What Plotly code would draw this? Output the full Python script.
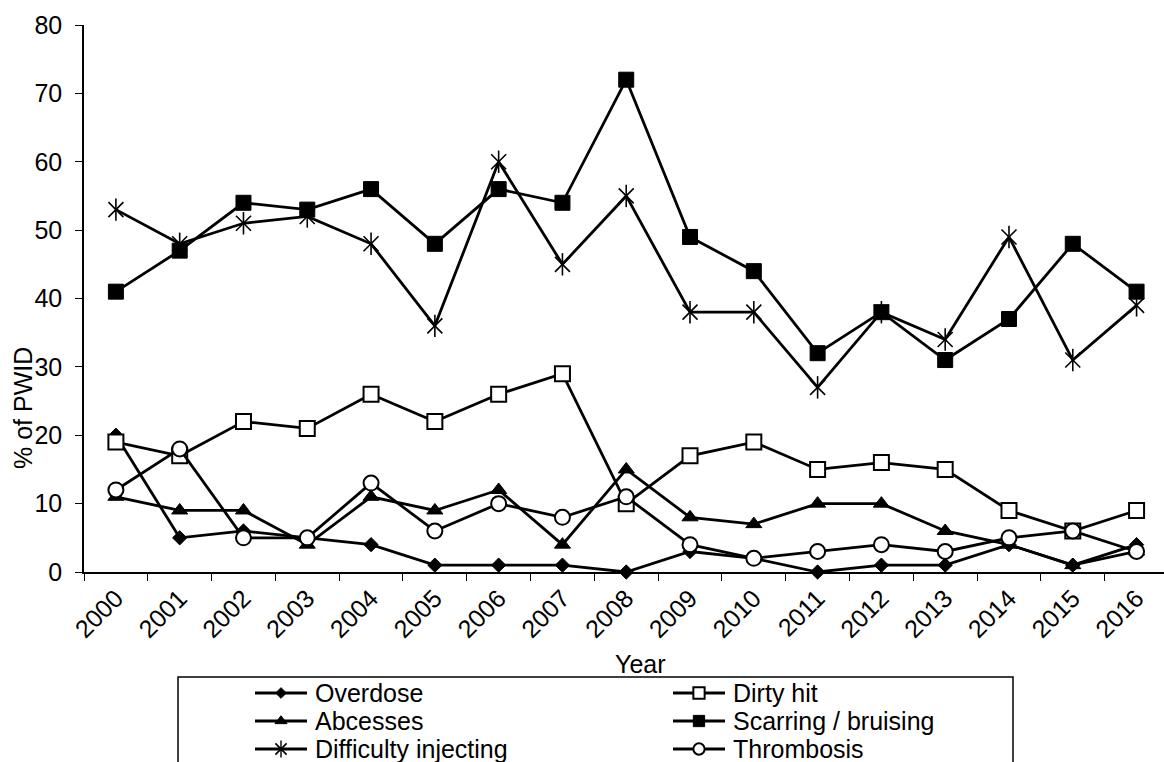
import plotly.graph_objects as go

# ---- data -------------------------------------------------------------
years = [str(y) for y in range(2000, 2017)]
overdose = [20, 5, 6, 5, 4, 1, 1, 1, 0, 3, 2, 0, 1, 1, 4, 1, 4]
dirty_hit = [19, 17, 22, 21, 26, 22, 26, 29, 10, 17, 19, 15, 16, 15, 9, 6, 9]
abcesses = [11, 9, 9, 4, 11, 9, 12, 4, 15, 8, 7, 10, 10, 6, 4, 1, 3]
scarring = [41, 47, 54, 53, 56, 48, 56, 54, 72, 49, 44, 32, 38, 31, 37, 48, 41]
difficulty = [53, 48, 51, 52, 48, 36, 60, 45, 55, 38, 38, 27, 38, 34, 49, 31, 39]
thrombosis = [12, 18, 5, 5, 13, 6, 10, 8, 11, 4, 2, 3, 4, 3, 5, 6, 3]
y_ticks = [0, 10, 20, 30, 40, 50, 60, 70, 80]

# ---- geometry (pixels) ------------------------------------------------
W, H = 1164, 762
M_L, M_T = 84, 25
PLOT_BOTTOM = 572
paper_h = H - M_T
main_bottom = (H - PLOT_BOTTOM) / paper_h

FONT = "Liberation Sans, Arial, sans-serif"
FS = 25
BLACK = "#000000"
LW = 2.8

series = [
    ("Overdose", overdose, dict(symbol="diamond", size=11, color=BLACK,
                                line=dict(color=BLACK, width=1))),
    ("Dirty hit", dirty_hit, dict(symbol="square", size=15, color="white",
                                  line=dict(color=BLACK, width=2))),
    ("Abcesses", abcesses, dict(symbol="triangle-up", size=14, color=BLACK,
                                line=dict(color=BLACK, width=1))),
    ("Scarring / bruising", scarring, dict(symbol="square", size=15, color=BLACK,
                                           line=dict(color=BLACK, width=1))),
    ("Difficulty injecting", difficulty, dict(symbol="x-thin-open", size=15, color=BLACK,
                                              line=dict(color=BLACK, width=1.6))),
    ("Thrombosis", thrombosis, dict(symbol="circle", size=15, color="white",
                                    line=dict(color=BLACK, width=2))),
]

fig = go.Figure()

for name, vals, mk in series:
    fig.add_trace(go.Scatter(
        x=years, y=vals, name=name, mode="lines+markers",
        line=dict(color=BLACK, width=LW), marker=mk,
        cliponaxis=False, showlegend=False,
    ))
    if mk["symbol"] == "x-thin-open":
        # vertical stroke completes the star marker
        fig.add_trace(go.Scatter(
            x=years, y=vals, mode="markers", hoverinfo="skip",
            marker=dict(symbol="line-ns-open", size=16, color=BLACK,
                        line=dict(color=BLACK, width=1.6)),
            cliponaxis=False, showlegend=False,
        ))

# ---- legend drawn on a pixel-scaled helper subplot --------------------
LEG_BOX = dict(x0=178, x1=1013, y0=677, y1=800)
ROW_Y = [693, 721, 749]
COL_MARK_X = [281, 699]
SWATCH_HALF = 26
TEXT_GAP = 6

for i, (name, vals, mk) in enumerate(series):
    row, col = divmod(i, 2)
    cx, cy = COL_MARK_X[col], ROW_Y[row]
    fig.add_trace(go.Scatter(
        x=[cx - SWATCH_HALF, cx + SWATCH_HALF], y=[cy, cy], mode="lines",
        line=dict(color=BLACK, width=LW), xaxis="x2", yaxis="y2",
        showlegend=False, hoverinfo="skip",
    ))
    leg_mk = dict(mk)
    leg_mk["size"] = mk["size"] * 0.75
    fig.add_trace(go.Scatter(
        x=[cx], y=[cy], mode="markers", marker=leg_mk, xaxis="x2", yaxis="y2",
        showlegend=False, hoverinfo="skip",
    ))
    if mk["symbol"] == "x-thin-open":
        fig.add_trace(go.Scatter(
            x=[cx], y=[cy], mode="markers", xaxis="x2", yaxis="y2",
            marker=dict(symbol="line-ns-open", size=12, color=BLACK,
                        line=dict(color=BLACK, width=1.4)),
            showlegend=False, hoverinfo="skip",
        ))
    fig.add_annotation(
        x=cx + SWATCH_HALF + TEXT_GAP, y=cy, xref="x2", yref="y2",
        text=name, showarrow=False, xanchor="left", yanchor="middle",
        font=dict(family=FONT, size=FS, color=BLACK),
    )

fig.add_shape(type="rect", xref="x2", yref="y2", **LEG_BOX,
              line=dict(color=BLACK, width=1.5), fillcolor="rgba(0,0,0,0)")

# ---- axis titles ------------------------------------------------------
fig.add_annotation(
    x=640, y=664, xref="x2", yref="y2", text="Year", showarrow=False,
    xanchor="center", yanchor="middle",
    font=dict(family=FONT, size=FS, color=BLACK),
)
fig.add_annotation(
    x=(23 - M_L) / (W - M_L), y=(H - 408) / paper_h, xref="paper", yref="paper",
    text="% of PWID", textangle=-90, showarrow=False,
    xanchor="center", yanchor="middle",
    font=dict(family=FONT, size=FS, color=BLACK),
)

fig.update_layout(
    width=W, height=H,
    margin=dict(l=M_L, r=0, t=M_T, b=0, autoexpand=False),
    paper_bgcolor="white", plot_bgcolor="white",
    font=dict(family=FONT, size=FS, color=BLACK),
    showlegend=False,
    xaxis=dict(
        type="category", range=[-0.5, 16.43], domain=[0, 1],
        showline=True, linecolor=BLACK, linewidth=1.5,
        ticks="outside", tickson="boundaries", ticklen=7, tickcolor=BLACK,
        tickwidth=1.2, tickangle=-45, showgrid=False, zeroline=False,
        tickfont=dict(family=FONT, size=FS, color=BLACK),
        anchor="y", automargin=False,
    ),
    yaxis=dict(
        range=[0, 80], domain=[main_bottom, 1], tickvals=y_ticks,
        showline=True, linecolor=BLACK, linewidth=1.5,
        ticks="outside", ticklen=7, tickcolor=BLACK, tickwidth=1.2,
        ticklabelstandoff=8,
        showgrid=False, zeroline=False,
        tickfont=dict(family=FONT, size=FS, color=BLACK),
        anchor="x", automargin=False,
    ),
    xaxis2=dict(range=[M_L, W], domain=[0, 1], visible=False, anchor="y2",
                fixedrange=True, automargin=False),
    yaxis2=dict(range=[H, PLOT_BOTTOM], domain=[0, main_bottom], visible=False,
                anchor="x2", fixedrange=True, automargin=False),
)

fig.write_html("out.html")
